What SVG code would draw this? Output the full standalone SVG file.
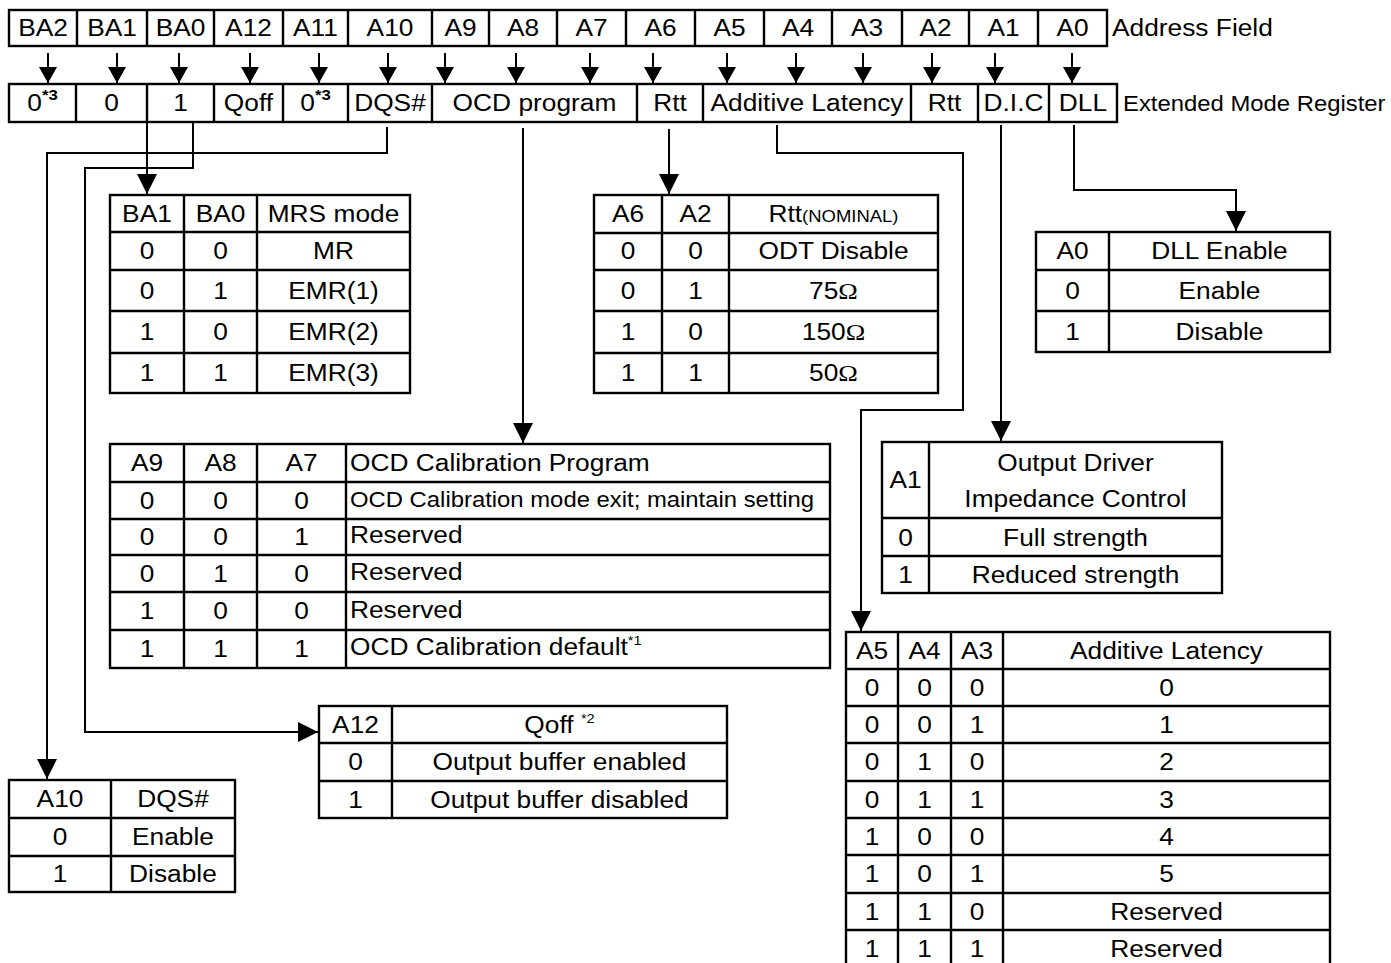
<svg xmlns="http://www.w3.org/2000/svg" width="1391" height="963" viewBox="0 0 1391 963">
<style>
.t{font-family:"Liberation Sans",Arial,sans-serif;font-size:23.5px;fill:#000}
.m{text-anchor:middle}
.cell{fill:#fff;stroke:#000;stroke-width:2.4}
.grid{stroke:#000;stroke-width:2.4;fill:none}
.conn{stroke:#000;stroke-width:2;fill:none}
.sup{font-size:15px;font-weight:bold}
.sup2{font-size:13px}
.om{font-family:"Liberation Serif","Times New Roman",serif}
</style>
<defs>
<marker id="ah" markerUnits="userSpaceOnUse" markerWidth="16" markerHeight="18" viewBox="0 0 16 18" refX="16" refY="9" orient="auto"><path d="M0,0 L16,9 L0,18 z" fill="#000"/></marker>
<marker id="ah2" markerUnits="userSpaceOnUse" markerWidth="20" markerHeight="20" viewBox="0 0 20 20" refX="20" refY="10" orient="auto"><path d="M0,0 L20,10 L0,20 z" fill="#000"/></marker>
</defs>
<rect width="1391" height="963" fill="#fff"/>

<g id="address-field">
<rect class="cell" x="9" y="10" width="1098" height="36"/>
<path class="grid" d="M77,10V46M147,10V46M214,10V46M283,10V46M348,10V46M432,10V46M489,10V46M557,10V46M626,10V46M695,10V46M764,10V46M832,10V46M902,10V46M969,10V46M1038,10V46"/>
<g transform="scale(1.12,1)" class="t">
<text class="m" x="38.39" y="36.5">BA2</text>
<text class="m" x="100" y="36.5">BA1</text>
<text class="m" x="161.16" y="36.5">BA0</text>
<text class="m" x="221.88" y="36.5">A12</text>
<text class="m" x="281.7" y="36.5">A11</text>
<text class="m" x="348.21" y="36.5">A10</text>
<text class="m" x="411.16" y="36.5">A9</text>
<text class="m" x="466.96" y="36.5">A8</text>
<text class="m" x="528.13" y="36.5">A7</text>
<text class="m" x="589.73" y="36.5">A6</text>
<text class="m" x="651.34" y="36.5">A5</text>
<text class="m" x="712.5" y="36.5">A4</text>
<text class="m" x="774.11" y="36.5">A3</text>
<text class="m" x="835.27" y="36.5">A2</text>
<text class="m" x="895.98" y="36.5">A1</text>
<text class="m" x="957.59" y="36.5">A0</text>
<text x="992.86" y="36.5">Address Field</text>
</g>
</g>

<g id="extended-mode-register">
<rect class="cell" x="9" y="84" width="1108" height="38"/>
<path class="grid" d="M76,84V122M147,84V122M214,84V122M283,84V122M348,84V122M432,84V122M637,84V122M703,84V122M911,84V122M978,84V122M1049,84V122"/>
<g transform="scale(1.12,1)" class="t">
<text class="m" x="37.95" y="111.5">0<tspan class="sup" dy="-11">*3</tspan></text>
<text class="m" x="99.55" y="111.5">0</text>
<text class="m" x="161.16" y="111.5">1</text>
<text class="m" x="221.88" y="111.5">Qoff</text>
<text class="m" x="281.7" y="111.5">0<tspan class="sup" dy="-11">*3</tspan></text>
<text class="m" x="348.21" y="111.5">DQS#</text>
<text class="m" x="477.23" y="111.5">OCD program</text>
<text class="m" x="598.21" y="111.5">Rtt</text>
<text class="m" x="720.54" y="111.5">Additive Latency</text>
<text class="m" x="843.3" y="111.5">Rtt</text>
<text class="m" x="904.91" y="111.5">D.I.C</text>
<text class="m" x="966.96" y="111.5">DLL</text>
<text x="1002.68" y="111" style="font-size:21.3px">Extended Mode Register</text>
</g>
</g>

<g id="connectors">
<g marker-end="url(#ah)" class="conn">
<path d="M48,53V83"/><path d="M117,53V83"/><path d="M179,53V83"/><path d="M250,53V83"/>
<path d="M319,53V83"/><path d="M388,53V83"/><path d="M445,53V83"/><path d="M516,53V83"/>
<path d="M590,53V83"/><path d="M653,53V83"/><path d="M727,53V83"/><path d="M796,53V83"/>
<path d="M863,53V83"/><path d="M932,53V83"/><path d="M995,53V83"/><path d="M1072,53V83"/>
</g>
<g marker-end="url(#ah2)" class="conn">
<path d="M147,122V194"/>
<path d="M193,122V168H85V732H318"/>
<path d="M387,127V153H47V779"/>
<path d="M523,128V443"/>
<path d="M669,129V194"/>
<path d="M777,125V153H963V410H861V631"/>
<path d="M1001,125V441"/>
<path d="M1074,125V190H1236V231"/>
</g>
</g>

<g id="mrs-table">
<rect class="cell" x="110" y="195" width="300" height="198"/>
<path class="grid" d="M184,195V393M257,195V393M110,232H410M110,270H410M110,311H410M110,353H410"/>
<g transform="scale(1.12,1)" class="t">
<text class="m" x="131.25" y="222">BA1</text><text class="m" x="196.88" y="222">BA0</text><text class="m" x="297.77" y="222">MRS mode</text>
<text class="m" x="131.25" y="259.5">0</text><text class="m" x="196.88" y="259.5">0</text><text class="m" x="297.77" y="259.5">MR</text>
<text class="m" x="131.25" y="299">0</text><text class="m" x="196.88" y="299">1</text><text class="m" x="297.77" y="299">EMR(1)</text>
<text class="m" x="131.25" y="340.5">1</text><text class="m" x="196.88" y="340.5">0</text><text class="m" x="297.77" y="340.5">EMR(2)</text>
<text class="m" x="131.25" y="381.5">1</text><text class="m" x="196.88" y="381.5">1</text><text class="m" x="297.77" y="381.5">EMR(3)</text>
</g>
</g>

<g id="rtt-table">
<rect class="cell" x="594" y="195" width="344" height="198"/>
<path class="grid" d="M662,195V393M729,195V393M594,233H938M594,270H938M594,311H938M594,353H938"/>
<g transform="scale(1.12,1)" class="t">
<text class="m" x="560.71" y="222">A6</text><text class="m" x="620.98" y="222">A2</text><text class="m" x="744.2" y="222">Rtt<tspan style="font-size:16.5px">(NOMINAL)</tspan></text>
<text class="m" x="560.71" y="259.5">0</text><text class="m" x="620.98" y="259.5">0</text><text class="m" x="744.2" y="259.5">ODT Disable</text>
<text class="m" x="560.71" y="299">0</text><text class="m" x="620.98" y="299">1</text><text class="m" x="744.2" y="299">75<tspan class="om">Ω</tspan></text>
<text class="m" x="560.71" y="340.5">1</text><text class="m" x="620.98" y="340.5">0</text><text class="m" x="744.2" y="340.5">150<tspan class="om">Ω</tspan></text>
<text class="m" x="560.71" y="381.5">1</text><text class="m" x="620.98" y="381.5">1</text><text class="m" x="744.2" y="381.5">50<tspan class="om">Ω</tspan></text>
</g>
</g>

<g id="dll-table">
<rect class="cell" x="1036" y="232" width="294" height="120"/>
<path class="grid" d="M1109,232V352M1036,270H1330M1036,311H1330"/>
<g transform="scale(1.12,1)" class="t">
<text class="m" x="957.59" y="259.5">A0</text><text class="m" x="1088.84" y="259.5">DLL Enable</text>
<text class="m" x="957.59" y="299">0</text><text class="m" x="1088.84" y="299">Enable</text>
<text class="m" x="957.59" y="340">1</text><text class="m" x="1088.84" y="340">Disable</text>
</g>
</g>

<g id="ocd-table">
<rect class="cell" x="110" y="444" width="720" height="224"/>
<path class="grid" d="M184,444V668M257,444V668M346,444V668M110,482H830M110,519H830M110,555H830M110,592H830M110,630H830"/>
<g transform="scale(1.12,1)" class="t">
<text class="m" x="131.25" y="471.5">A9</text><text class="m" x="196.88" y="471.5">A8</text><text class="m" x="269.2" y="471.5">A7</text><text x="312.5" y="471.5">OCD Calibration Program</text>
<text class="m" x="131.25" y="509">0</text><text class="m" x="196.88" y="509">0</text><text class="m" x="269.2" y="509">0</text><text x="312.5" y="507.5" style="font-size:21.3px">OCD Calibration mode exit; maintain setting</text>
<text class="m" x="131.25" y="545.5">0</text><text class="m" x="196.88" y="545.5">0</text><text class="m" x="269.2" y="545.5">1</text><text x="312.5" y="543.5">Reserved</text>
<text class="m" x="131.25" y="582">0</text><text class="m" x="196.88" y="582">1</text><text class="m" x="269.2" y="582">0</text><text x="312.5" y="580.5">Reserved</text>
<text class="m" x="131.25" y="619.5">1</text><text class="m" x="196.88" y="619.5">0</text><text class="m" x="269.2" y="619.5">0</text><text x="312.5" y="618">Reserved</text>
<text class="m" x="131.25" y="657.5">1</text><text class="m" x="196.88" y="657.5">1</text><text class="m" x="269.2" y="657.5">1</text><text x="312.5" y="655.5">OCD Calibration default<tspan class="sup2" dy="-10">*1</tspan></text>
</g>
</g>

<g id="odic-table">
<rect class="cell" x="882" y="442" width="340" height="151"/>
<path class="grid" d="M929,442V593M882,518H1222M882,556H1222"/>
<g transform="scale(1.12,1)" class="t">
<text class="m" x="808.48" y="488.5">A1</text>
<text class="m" x="960.27" y="471.5">Output Driver</text>
<text class="m" x="960.27" y="507.5">Impedance Control</text>
<text class="m" x="808.48" y="546">0</text><text class="m" x="960.27" y="546">Full strength</text>
<text class="m" x="808.48" y="583.5">1</text><text class="m" x="960.27" y="583.5">Reduced strength</text>
</g>
</g>

<g id="al-table">
<rect class="cell" x="846" y="632" width="484" height="336"/>
<path class="grid" d="M898,632V968M951,632V968M1003,632V968M846,669H1330M846,706H1330M846,743H1330M846,781H1330M846,818H1330M846,855H1330M846,893H1330M846,930H1330"/>
<g transform="scale(1.12,1)" class="t">
<text class="m" x="778.57" y="659">A5</text><text class="m" x="825.45" y="659">A4</text><text class="m" x="872.32" y="659">A3</text><text class="m" x="1041.52" y="659">Additive Latency</text>
<text class="m" x="778.57" y="696">0</text><text class="m" x="825.45" y="696">0</text><text class="m" x="872.32" y="696">0</text><text class="m" x="1041.52" y="696">0</text>
<text class="m" x="778.57" y="733">0</text><text class="m" x="825.45" y="733">0</text><text class="m" x="872.32" y="733">1</text><text class="m" x="1041.52" y="733">1</text>
<text class="m" x="778.57" y="770.5">0</text><text class="m" x="825.45" y="770.5">1</text><text class="m" x="872.32" y="770.5">0</text><text class="m" x="1041.52" y="770.5">2</text>
<text class="m" x="778.57" y="808">0</text><text class="m" x="825.45" y="808">1</text><text class="m" x="872.32" y="808">1</text><text class="m" x="1041.52" y="808">3</text>
<text class="m" x="778.57" y="845">1</text><text class="m" x="825.45" y="845">0</text><text class="m" x="872.32" y="845">0</text><text class="m" x="1041.52" y="845">4</text>
<text class="m" x="778.57" y="882.5">1</text><text class="m" x="825.45" y="882.5">0</text><text class="m" x="872.32" y="882.5">1</text><text class="m" x="1041.52" y="882.5">5</text>
<text class="m" x="778.57" y="920">1</text><text class="m" x="825.45" y="920">1</text><text class="m" x="872.32" y="920">0</text><text class="m" x="1041.52" y="920">Reserved</text>
<text class="m" x="778.57" y="957.5">1</text><text class="m" x="825.45" y="957.5">1</text><text class="m" x="872.32" y="957.5">1</text><text class="m" x="1041.52" y="957.5">Reserved</text>
</g>
</g>

<g id="qoff-table">
<rect class="cell" x="319" y="706" width="408" height="112"/>
<path class="grid" d="M392,706V818M319,743H727M319,781H727"/>
<g transform="scale(1.12,1)" class="t">
<text class="m" x="317.41" y="733">A12</text><text class="m" x="499.55" y="733">Qoff <tspan class="sup2" dy="-10">*2</tspan></text>
<text class="m" x="317.41" y="770.5">0</text><text class="m" x="499.55" y="770.5">Output buffer enabled</text>
<text class="m" x="317.41" y="808">1</text><text class="m" x="499.55" y="808">Output buffer disabled</text>
</g>
</g>

<g id="a10-table">
<rect class="cell" x="9" y="780" width="226" height="112"/>
<path class="grid" d="M111,780V892M9,818H235M9,856H235"/>
<g transform="scale(1.12,1)" class="t">
<text class="m" x="53.57" y="807.5">A10</text><text class="m" x="154.46" y="807.5">DQS#</text>
<text class="m" x="53.57" y="845.5">0</text><text class="m" x="154.46" y="845.5">Enable</text>
<text class="m" x="53.57" y="882.5">1</text><text class="m" x="154.46" y="882.5">Disable</text>
</g>
</g>
</svg>
